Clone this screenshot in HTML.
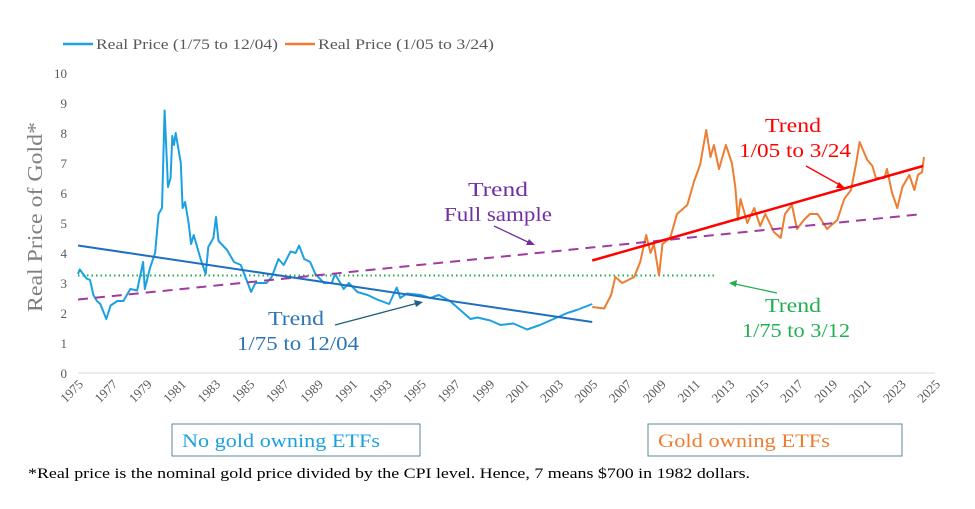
<!DOCTYPE html>
<html><head><meta charset="utf-8"><style>
html,body{margin:0;padding:0;background:#fff}
svg text{font-family:"Liberation Serif",serif}
</style></head><body>
<svg id="chart" width="975" height="504" viewBox="0 0 975 504" xmlns="http://www.w3.org/2000/svg">
<g>
<line x1="63" y1="44" x2="93" y2="44" stroke="#1ba1e2" stroke-width="2.5"/>
<text x="96" y="49" font-size="15" fill="#595959" textLength="182" lengthAdjust="spacingAndGlyphs">Real Price (1/75 to 12/04)</text>
<line x1="285" y1="44" x2="315" y2="44" stroke="#ed7d31" stroke-width="2.5"/>
<text x="318" y="49" font-size="15" fill="#595959" textLength="176" lengthAdjust="spacingAndGlyphs">Real Price (1/05 to 3/24)</text>
</g>
<text transform="translate(42,217) rotate(-90)" text-anchor="middle" font-size="21" fill="#7f7f7f" textLength="190" lengthAdjust="spacingAndGlyphs">Real Price of Gold*</text>
<g id="yticks"></g>
<g id="xticks"></g>
<line x1="78" y1="373" x2="935" y2="373" stroke="#d9d9d9" stroke-width="1"/>
<g id="marks"></g>
<g>
<text x="498" y="196" text-anchor="middle" font-size="20" fill="#7030a0" textLength="60" lengthAdjust="spacingAndGlyphs">Trend</text>
<text x="498" y="221" text-anchor="middle" font-size="20" fill="#7030a0" textLength="108" lengthAdjust="spacingAndGlyphs">Full sample</text>
<line x1="494" y1="226" x2="530" y2="243" stroke="#7030a0" stroke-width="1.3"/>
<polygon points="535,245 526,245 529,239" fill="#7030a0"/>
<text x="296" y="325" text-anchor="middle" font-size="20" fill="#2e75b6" textLength="56" lengthAdjust="spacingAndGlyphs">Trend</text>
<text x="298" y="350" text-anchor="middle" font-size="20" fill="#2e75b6" textLength="122" lengthAdjust="spacingAndGlyphs">1/75 to 12/04</text>
<line x1="335" y1="325" x2="418" y2="303" stroke="#1f5f7f" stroke-width="1.3"/>
<polygon points="423,302 414,300 416,307" fill="#1f5f7f"/>
<text x="793" y="132" text-anchor="middle" font-size="20" fill="#ff0000" textLength="56" lengthAdjust="spacingAndGlyphs">Trend</text>
<text x="795" y="157" text-anchor="middle" font-size="20" fill="#ff0000" textLength="112" lengthAdjust="spacingAndGlyphs">1/05 to 3/24</text>
<line x1="806" y1="166" x2="840" y2="185" stroke="#ff0000" stroke-width="1.3"/>
<polygon points="845,188 836,188 839,182" fill="#ff0000"/>
<text x="793" y="312" text-anchor="middle" font-size="20" fill="#21b050" textLength="56" lengthAdjust="spacingAndGlyphs">Trend</text>
<text x="796" y="337" text-anchor="middle" font-size="20" fill="#21b050" textLength="108" lengthAdjust="spacingAndGlyphs">1/75 to 3/12</text>
<line x1="777" y1="293" x2="735" y2="284" stroke="#21b050" stroke-width="1.3"/>
<polygon points="729,283 737,280 736,287" fill="#21b050"/>
</g>
<rect x="172" y="424" width="248" height="32" fill="#fff" stroke="#5b8a9a" stroke-width="1"/>
<text x="182" y="447" font-size="19" fill="#1ba1e2" textLength="198" lengthAdjust="spacingAndGlyphs">No gold owning ETFs</text>
<rect x="648" y="424" width="254" height="32" fill="#fff" stroke="#5b8a9a" stroke-width="1"/>
<text x="658" y="447" font-size="19" fill="#ed7d31" textLength="172" lengthAdjust="spacingAndGlyphs">Gold owning ETFs</text>
<text x="28" y="478" font-size="15" fill="#000" textLength="722" lengthAdjust="spacingAndGlyphs">*Real price is the nominal gold price divided by the CPI level. Hence, 7 means $700 in 1982 dollars.</text>
</svg>
<script>
const blueYears=[1975.0,1975.1,1975.5,1975.7,1975.9,1976.1,1976.3,1976.65,1976.9,1977.3,1977.65,1978.05,1978.45,1978.8,1978.9,1979.2,1979.5,1979.7,1979.9,1980.05,1980.25,1980.4,1980.5,1980.6,1980.7,1981.0,1981.1,1981.25,1981.45,1981.6,1981.75,1982.15,1982.45,1982.6,1982.9,1983.05,1983.2,1983.7,1984.1,1984.5,1984.9,1985.1,1985.35,1986.0,1986.3,1986.7,1987.0,1987.4,1987.7,1987.9,1988.2,1988.55,1988.85,1989.35,1989.8,1990.0,1990.5,1990.8,1991.3,1991.9,1992.45,1993.15,1993.6,1993.8,1994.2,1995.0,1995.55,1996.05,1996.7,1997.1,1997.9,1998.3,1999.05,1999.65,2000.4,2001.2,2001.95,2002.75,2003.55,2004.1,2005.0];
const blueValues=[3.3,3.45,3.15,3.1,2.6,2.4,2.3,1.8,2.25,2.4,2.4,2.8,2.75,3.7,2.8,3.5,4.0,5.3,5.5,8.75,6.2,6.5,7.9,7.6,8.0,7.0,5.5,5.7,5.0,4.3,4.6,3.8,3.3,4.2,4.5,5.2,4.4,4.1,3.7,3.6,3.0,2.7,3.0,3.0,3.2,3.8,3.6,4.05,4.0,4.25,3.8,3.7,3.3,3.0,3.0,3.3,2.8,3.0,2.7,2.6,2.45,2.3,2.85,2.5,2.65,2.6,2.5,2.6,2.4,2.2,1.8,1.85,1.75,1.6,1.65,1.45,1.6,1.8,2.0,2.1,2.3];
const orangeYears=[2005.0,2005.7,2006.1,2006.35,2006.75,2007.45,2007.8,2008.15,2008.4,2008.6,2008.9,2009.1,2009.55,2009.95,2010.55,2010.95,2011.3,2011.65,2011.9,2012.1,2012.4,2012.8,2013.15,2013.35,2013.5,2013.65,2014.05,2014.45,2014.8,2015.1,2015.6,2016.0,2016.25,2016.65,2016.95,2017.35,2017.7,2018.15,2018.7,2019.3,2019.7,2020.1,2020.4,2020.6,2021.05,2021.35,2021.55,2022.05,2022.2,2022.5,2022.8,2023.1,2023.5,2023.8,2024.0,2024.25,2024.35];
const orangeValues=[2.2,2.15,2.6,3.2,3.0,3.2,3.7,4.6,4.0,4.3,3.25,4.3,4.5,5.3,5.6,6.4,6.95,8.1,7.2,7.6,6.8,7.6,7.0,6.2,5.1,5.8,5.0,5.5,4.9,5.3,4.7,4.5,5.3,5.6,4.8,5.1,5.3,5.3,4.8,5.1,5.8,6.1,7.0,7.7,7.1,6.9,6.5,6.5,6.8,6.0,5.5,6.2,6.6,6.1,6.6,6.7,7.2];
const trendBlue=[[1975,4.25],[2005,1.7]];
const trendFull=[[1975,2.45],[2024.3,5.3]];
const trendGreen=[[1975,3.25],[2012.2,3.25]];
const trendRed=[[2005,3.75],[2024.3,6.9]];
const yTicks=[0,1,2,3,4,5,6,7,8,9,10];
const xTicks=[1975,1977,1979,1981,1983,1985,1987,1989,1991,1993,1995,1997,1999,2001,2003,2005,2007,2009,2011,2013,2015,2017,2019,2021,2023,2025];
const NS='http://www.w3.org/2000/svg';
const xs=y=>78+(y-1975)*(857/50);
const ys=v=>373-v*30;
function mk(tag,parent){const e=document.createElementNS(NS,tag);parent.appendChild(e);return e;}
const yg=document.getElementById('yticks'),xg=document.getElementById('xticks'),mg=document.getElementById('marks');
yTicks.forEach(t=>{const e=mk('text',yg);


e.setAttribute('x',67);e.setAttribute('y',ys(t)+5);e.setAttribute('text-anchor','end');e.setAttribute('font-size','13');e.setAttribute('fill','#595959');e.textContent=t;});
xTicks.forEach(t=>{const e=mk('text',xg);


const x=xs(t)+6,y=385;e.setAttribute('transform',`translate(${x},${y}) rotate(-45)`);e.setAttribute('text-anchor','end');e.setAttribute('font-size','13');e.setAttribute('fill','#595959');e.textContent=t;});
function trend(pts,color,w,dash,name){const l=mk('line',mg);


l.setAttribute('x1',xs(pts[0][0]));l.setAttribute('y1',ys(pts[0][1]));l.setAttribute('x2',xs(pts[1][0]));l.setAttribute('y2',ys(pts[1][1]));l.setAttribute('stroke',color);l.setAttribute('stroke-width',w);if(dash)l.setAttribute('stroke-dasharray',dash);}
function series(X,V,color,name){const p=mk('polyline',mg);


p.setAttribute('points',X.map((x,i)=>xs(x).toFixed(1)+','+ys(V[i]).toFixed(1)).join(' '));p.setAttribute('fill','none');p.setAttribute('stroke',color);p.setAttribute('stroke-width','2');p.setAttribute('stroke-linejoin','round');}
trend(trendGreen,'#21b050',2,'1.5 3','trend-green-line');
series(blueYears,blueValues,'#1ba1e2','blue-price-line');
series(orangeYears,orangeValues,'#ed7d31','orange-price-line');
trend(trendFull,'#a03aa0',2,'10 7','trend-full-line');
trend(trendBlue,'#1f6fc0',2,null,'trend-blue-line');
trend(trendRed,'#ff0000',2.5,null,'trend-red-line');
</script>
</body></html>
